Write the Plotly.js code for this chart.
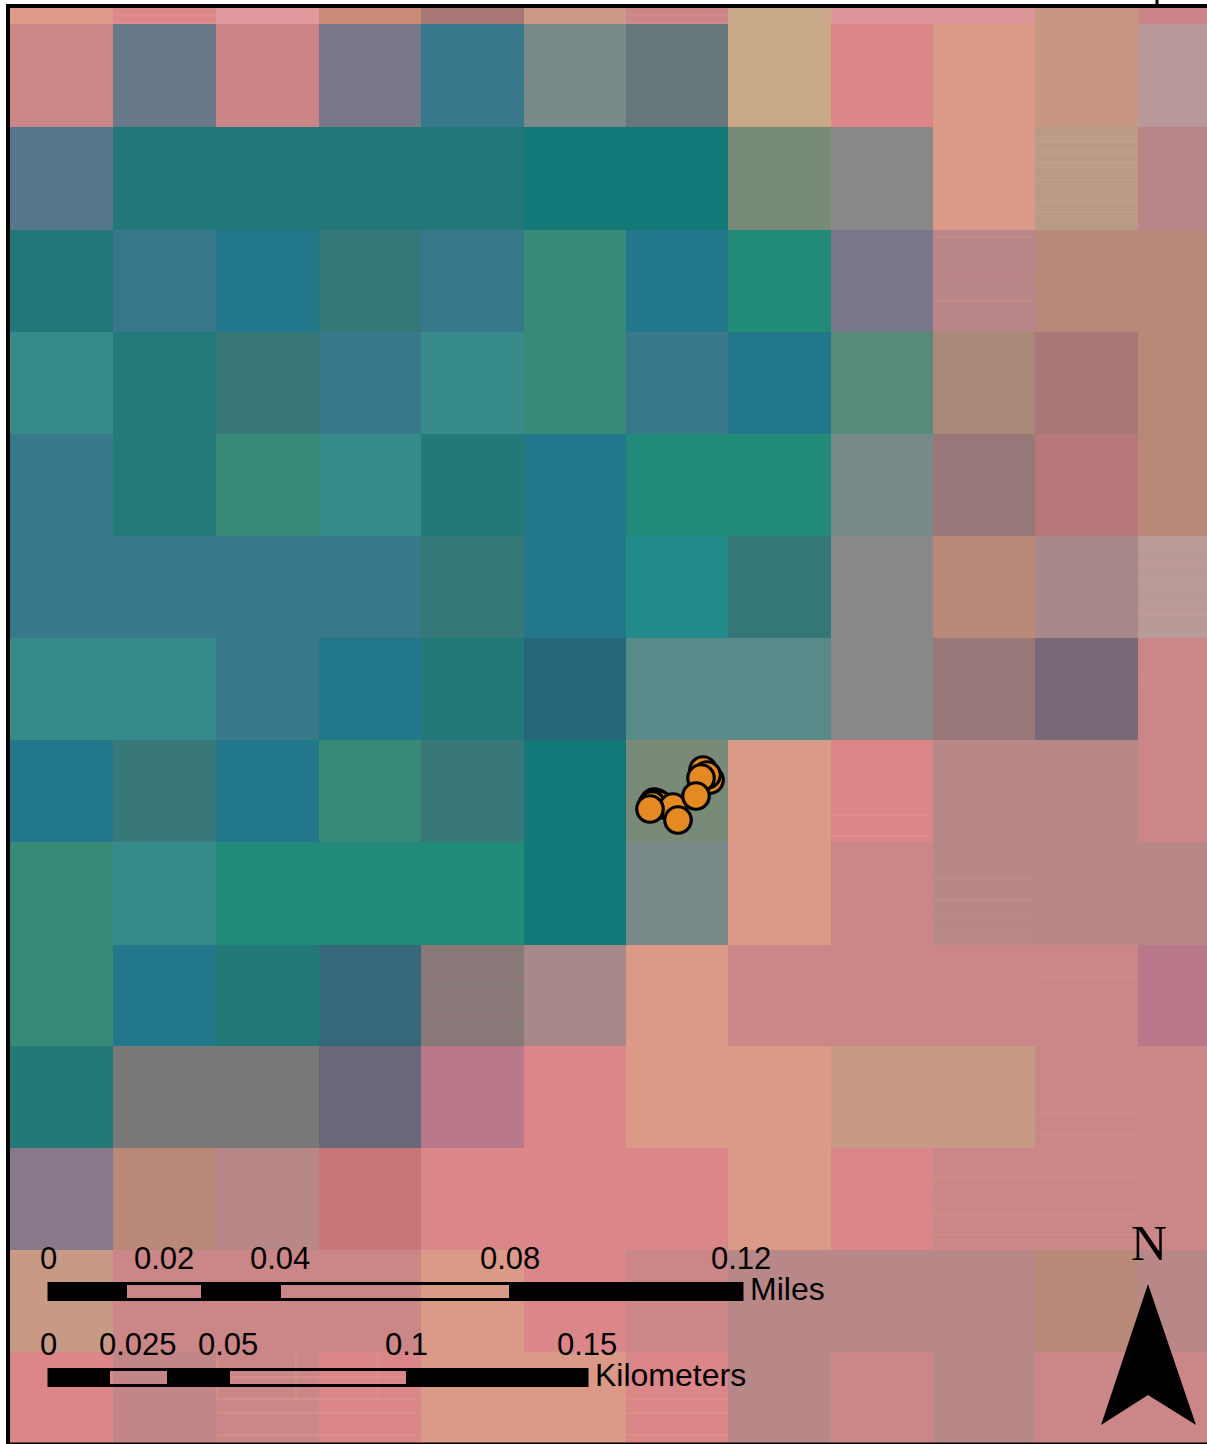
<!DOCTYPE html>
<html><head><meta charset="utf-8">
<script src="https://cdn.plot.ly/plotly-3.0.1.min.js"></script>
<style>html,body{margin:0;padding:0;background:#fff}#chart{width:1207px;height:1444px}</style>
</head><body><div id="chart"></div>
<script>
const xEdges=[10,113,216,319,421,524,626,728,831,933,1035,1138,1207];
const yEdges=[8,24,127,230,332,434,536,638,740,842,945,1046,1148,1250,1352,1444];
const cellColors=[
["#dd9b87","#dd8888","#e09a9e","#c98b78","#a87877","#cb9a86","#cc8588","#c9a988","#dc9598","#dc9598","#c89783","#cb8588"],
["#cb8788","#69798a","#cb8586","#78788a","#37788a","#7a8a88","#67777a","#c9a988","#dc8689","#db9a87","#c89783","#b89898"],
["#57788a","#227878","#227878","#227878","#227878","#127878","#127878","#788a78","#888888","#db9a87","#b89a86","#b88688"],
["#227878","#36788a","#22788a","#367878","#36788a","#388a78","#22788a","#228a78","#78788a","#b88688","#b88978","#b88978"],
["#368a8a","#237a78","#387878","#37788a","#368a8a","#388a78","#37788a","#22788a","#578a78","#a88978","#a87878","#b88978"],
["#37788a","#237a78","#388a78","#368a8a","#237878","#22788a","#228a78","#228a78","#788a8a","#987878","#b87778","#b88978"],
["#37788a","#37788a","#37788a","#37788a","#367878","#22788a","#228a8a","#367878","#888888","#b88978","#a88888","#b89a98"],
["#368a8a","#368a8a","#37788a","#22788a","#237878","#26687a","#588a8a","#588a8a","#888888","#987878","#786878","#cb8688"],
["#22788a","#387878","#22788a","#388a78","#387878","#127878","#7a8a78","#db9a87","#dc8689","#b88888","#b88888","#cb8688"],
["#388a78","#368a8a","#228a78","#228a78","#228a78","#127878","#7a8a8a","#db9a87","#cb8688","#b88888","#b88888","#b88888"],
["#388a78","#22788a","#237878","#37687a","#887878","#a88888","#db9a87","#cb8688","#cb8688","#cb8688","#cb8688","#b8788a"],
["#237878","#787878","#787878","#68687a","#b8788a","#db8688","#db9a87","#db9a87","#c89a86","#c89a86","#cb8688","#cb8688"],
["#88788a","#b88978","#b88888","#c87678","#db8688","#db8688","#db8688","#db9a87","#db8688","#cb8688","#cb8688","#cb8688"],
["#c89a86","#cb8688","#cb8688","#cb8688","#db9a87","#db8688","#cb8688","#b88888","#b88888","#b88888","#b88978","#b88888"],
["#db8688","#c38688","#cb8688","#db8688","#db9a87","#db9a87","#db8688","#b88888","#cb8688","#b88888","#cb8688","#cb8688"]
];
const pointX=[703,710,707,654,657,660,652,673,701,696,650,678];
const pointY=[770,780,775,802,803,805,805,807,778,796,809,820];
const milesTicks=["0","0.02","0.04","0.08","0.12"];
const milesTickX=[48,164,280,510,741];
const kmTicks=["0","0.025","0.05","0.1","0.15"];
const kmTickX=[48,138,228,406,587];
const milesBlack=[[48,127],[201,281],[509,743]];
const kmBlack=[[48,110],[167,230],[406,588]];
// faint sensor-stripe lines seen inside some cells: [x0, x1, colour, y list]
const stripes=[
[114,216,"#e0958a",[15,23]],[627,728,"#d69488",[15,23]],
[525,626,"#6f9582",[37,80,102,116]],
[1037,1137,"#c4a08e",[137,141,150,154,163,167,176,180,201,212,216]],
[933,1035,"#c49283",[237,280,301]],
[1140,1207,"#c79a9a",[538,550,562,567,578,591,601,611,615]],
[1140,1207,"#d49482",[680]],
[832,931,"#dd9a87",[815,836]],
[933,1033,"#ba9280",[879,900,915,936]],
[422,523,"#9a7078",[978,1000,1014,1036]],
[1037,1136,"#d29282",[978,1000,1113,1135]],
[933,1136,"#d29282",[1178,1200,1214,1235]],
[217,418,"#d69a88",[1399]],[217,625,"#d69a88",[1413]],[217,418,"#d69a88",[1435]],
[230,406,"#dc9a88",[1377]],[627,728,"#dd9a87",[1399,1413,1435]]
];
const vStripes=[[217,1354,1401],[296,1354,1401],[378,1354,1401]];

const palette=[...new Set(cellColors.flat())];
const n=palette.length;
const colorscale=[];
palette.forEach((c,i)=>{colorscale.push([i/n,c]);colorscale.push([(i+1)/n,c]);});
const z=cellColors.map(r=>r.map(c=>palette.indexOf(c)));

const traces=[
{type:'heatmap',x:xEdges,y:yEdges,z:z,zmin:-0.5,zmax:n-0.5,colorscale:colorscale,showscale:false,hoverinfo:'skip',xgap:0,ygap:0},
{type:'scatter',mode:'markers',x:pointX,y:pointY,hoverinfo:'skip',
 marker:{size:26.5,color:'#e58a22',line:{color:'#000',width:3.2}}}
];
const shapes=[];
stripes.forEach(s=>s[3].forEach(y=>shapes.push({type:'line',xref:'x',yref:'y',x0:s[0],x1:s[1],y0:y,y1:y,line:{color:s[2],width:1},layer:'above'})));
vStripes.forEach(s=>shapes.push({type:'line',xref:'x',yref:'y',x0:s[0],x1:s[0],y0:s[1],y1:s[2],line:{color:'#d69a88',width:1}}));
function bar(y0,y1,x0,x1,black){
 shapes.push({type:'rect',xref:'x',yref:'y',x0:x0,x1:x1,y0:y0,y1:y1,line:{color:'#000',width:3},fillcolor:'rgba(0,0,0,0)'});
 black.forEach(s=>shapes.push({type:'rect',xref:'x',yref:'y',x0:s[0],x1:s[1],y0:y0,y1:y1,line:{width:0},fillcolor:'#000'}));
}
bar(1283.5,1299.5,49,742,milesBlack);
bar(1369.5,1385.5,49,587,kmBlack);
shapes.push({type:'path',xref:'x',yref:'y',path:'M1148,1284 L1101,1425 L1148,1395 L1196,1425 Z',fillcolor:'#000',line:{width:0}});
[[8,8,4,1444,4],[6,1207,6,6,4],[6,1207,1443.5,1443.5,2],[1157,1157,0,6,3]].forEach(l=>
 shapes.push({type:'line',xref:'x',yref:'y',x0:l[0],x1:l[1],y0:l[2],y1:l[3],line:{color:'#000',width:l[4]}}));

const annotations=[];
const font={family:'"Liberation Sans",Arial,sans-serif',size:31,color:'#000'};
const wordFont={family:'"Liberation Sans",Arial,sans-serif',size:32,color:'#000'};
function label(t,x,y,anchor,f){annotations.push({text:t,x:x,y:y,xref:'x',yref:'y',showarrow:false,xanchor:anchor,yanchor:'middle',font:f||font,borderpad:0,borderwidth:0});}
milesTicks.forEach((t,i)=>label(t,milesTickX[i],1258,'center'));
kmTicks.forEach((t,i)=>label(t,kmTickX[i],1344,'center'));
label('Miles',749.5,1289,'left',wordFont);
label('Kilometers',594.5,1375,'left',wordFont);
label('N',1148.5,1243,'center',{family:'"Liberation Serif",serif',size:50,color:'#000'});

Plotly.newPlot('chart',traces,{
 width:1207,height:1444,margin:{l:0,r:0,t:0,b:0,pad:0},paper_bgcolor:'#fff',plot_bgcolor:'#fff',showlegend:false,
 xaxis:{range:[0,1207],visible:false,fixedrange:true},
 yaxis:{range:[1444,0],visible:false,fixedrange:true},
 shapes:shapes,annotations:annotations
},{displayModeBar:false,staticPlot:true});
</script></body></html>
